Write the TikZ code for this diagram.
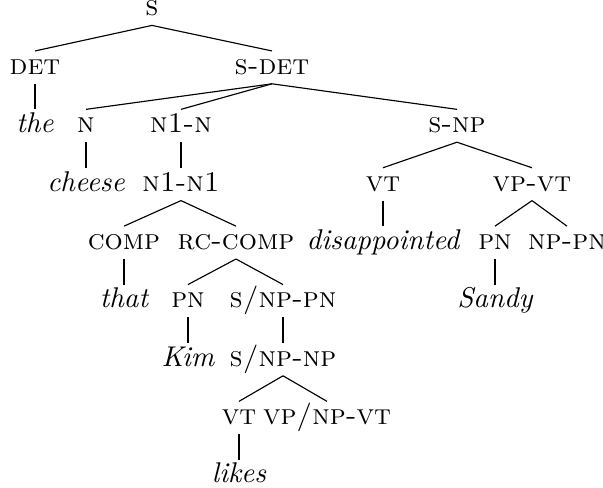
\documentclass[tikz,border=0pt]{standalone}
\usepackage{tikz}

\begin{document}
\begin{tikzpicture}[x=0.35pt, y=-0.35pt,
    cat/.style={anchor=base, inner sep=1.5pt, text height=6.5pt, text depth=1.6pt, font=\scshape},
    word/.style={anchor=base, inner sep=1.5pt, text height=6.5pt, text depth=1.6pt, font=\itshape}]
				\useasboundingbox (0,0) rectangle (603,488);
				
				\node[cat, text height=4pt, inner ysep=0pt] (s) at (152,16) {s};
				
				\node[cat] (det) at (35,74.4) {det};
				\node[cat] (sdet) at (272,74.4) {s-det};
				
				\node[word] (the) at (35,132.8) {the};
				\node[cat] (n) at (86,132.8) {n};
				\node[cat] (nin) at (181,132.8) {n1-n};
				\node[cat] (snp) at (457,132.8) {s-np};
				
				\node[word] (cheese) at (86,191.2) {cheese};
				\node[cat] (ninin) at (181,191.2) {n1-n1};
				\node[cat] (vt) at (383,191.2) {vt};
				\node[cat] (vpvt) at (532,191.2) {vp-vt};
				
				\node[cat] (comp) at (124,249.6) {comp};
				\node[cat] (rccomp) at (236,249.6) {rc-comp};
				\node[word] (disappointed) at (383,249.6) {disappointed};
				\node[cat] (pn) at (495,249.6) {pn};
				\node[cat] (nppn) at (567,249.6) {np-pn};
				
				\node[word] (that) at (124,308) {that};
				\node[cat] (pnk) at (188,308) {pn};
				\node[cat] (snppn) at (283,308) {s/np-pn};
				\node[word] (sandy) at (495,308) {Sandy};
				
				\node[word] (kim) at (188,366.4) {Kim};
				\node[cat] (snpnp) at (283,366.4) {s/np-np};
				
				\node[cat] (vtl) at (239,424.8) {vt};
				\node[cat] (vpnpvt) at (327,424.8) {vp/np-vt};
				
				\node[word] (likes) at (239,483) {likes};
				
				% branches
				\draw ([yshift=-1.5pt]s.south) -- (det.north);
				\draw ([yshift=-1.5pt]s.south) -- (sdet.north);
				\draw (det.south) -- (the.north);
				\draw (sdet.south) -- (n.north);
				\draw (sdet.south) -- (nin.north);
				\draw (sdet.south) -- (snp.north);
				\draw (n.south) -- (cheese.north);
				\draw (nin.south) -- (ninin.north);
				\draw (snp.south) -- (vt.north);
				\draw (snp.south) -- (vpvt.north);
				\draw (ninin.south) -- (comp.north);
				\draw (ninin.south) -- (rccomp.north);
				\draw (vt.south) -- (disappointed.north);
				\draw (vpvt.south) -- (pn.north);
				\draw (vpvt.south) -- (nppn.north);
				\draw (comp.south) -- (that.north);
				\draw (rccomp.south) -- (pnk.north);
				\draw (rccomp.south) -- (snppn.north);
				\draw (pn.south) -- (sandy.north);
				\draw (pnk.south) -- (kim.north);
				\draw (snppn.south) -- (snpnp.north);
				\draw (snpnp.south) -- (vtl.north);
				\draw (snpnp.south) -- (vpnpvt.north);
				\draw (vtl.south) -- (likes.north);
			\end{tikzpicture}
\end{document}
